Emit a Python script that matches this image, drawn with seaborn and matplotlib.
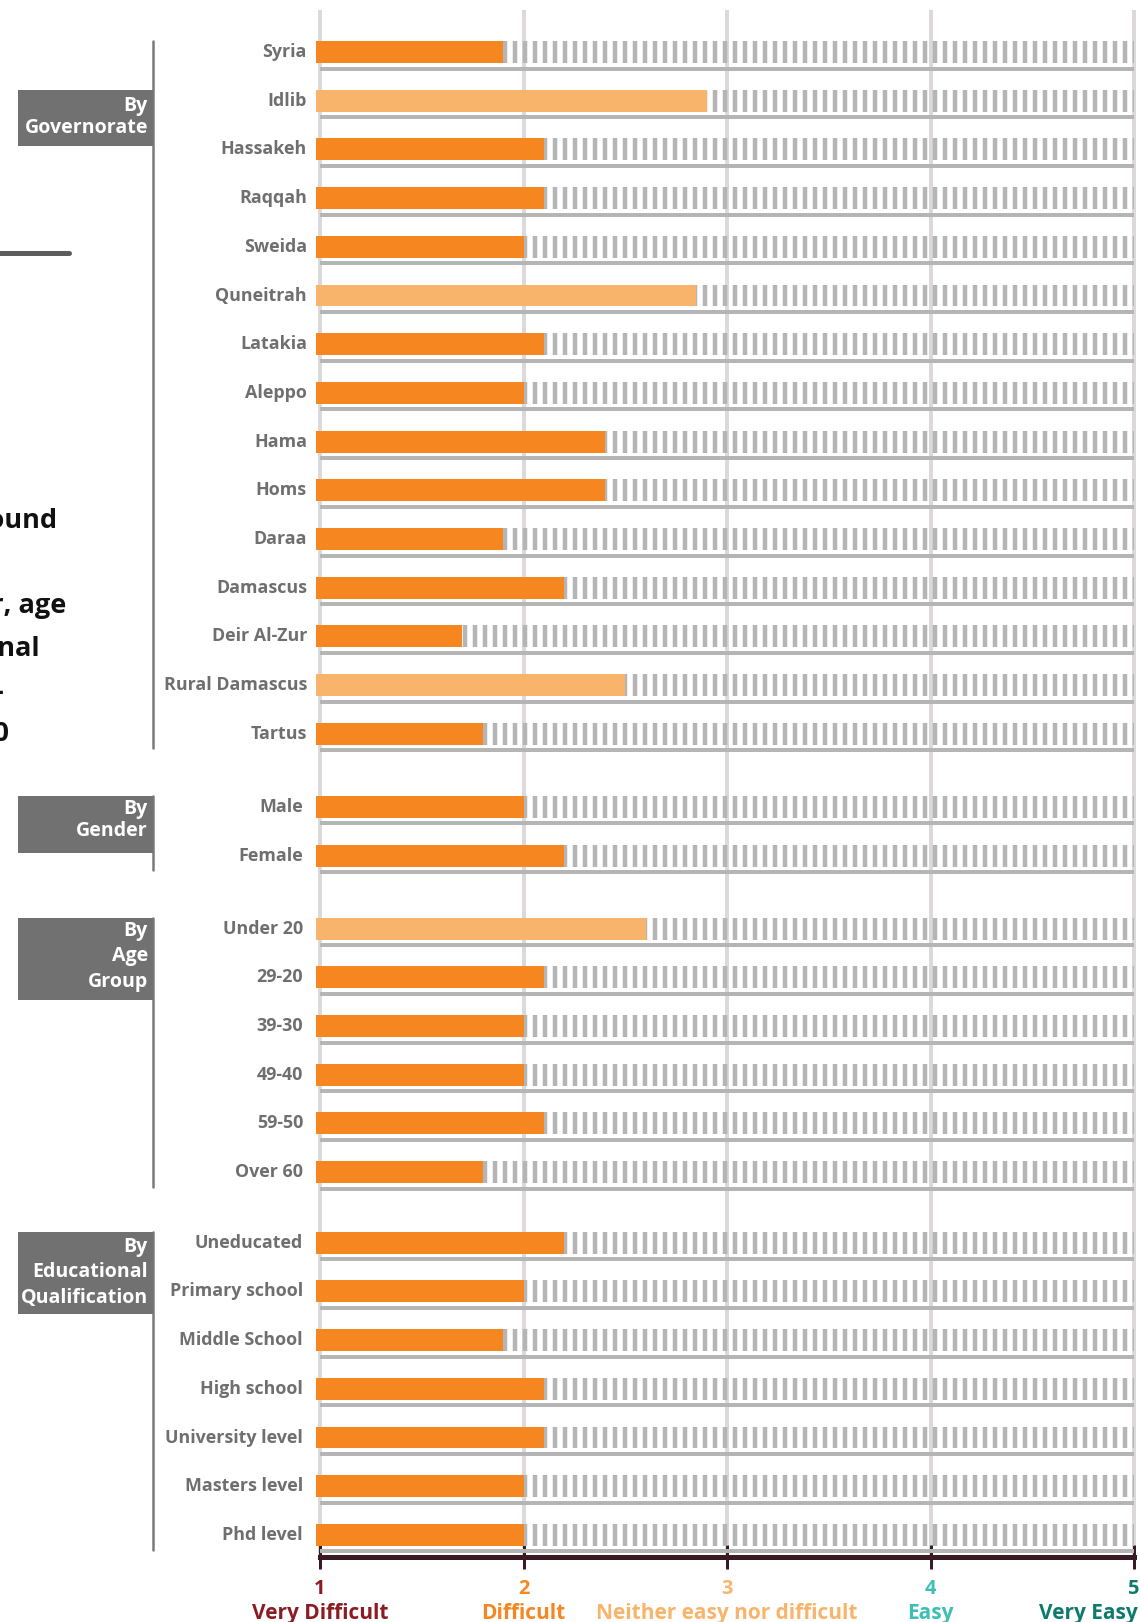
import numpy as np
import pandas as pd
import matplotlib
matplotlib.use("Agg")
import matplotlib.pyplot as plt
import seaborn as sns
from matplotlib import transforms
from matplotlib.patches import Rectangle
from matplotlib.lines import Line2D

# ---------------- data ----------------
gov_labels = ["Syria", "Idlib", "Hassakeh", "Raqqah", "Sweida", "Quneitrah", "Latakia",
              "Aleppo", "Hama", "Homs", "Daraa", "Damascus", "Deir Al-Zur",
              "Rural Damascus", "Tartus"]
gov_values = [1.9, 2.9, 2.1, 2.1, 2.0, 2.85, 2.1, 2.0, 2.4, 2.4, 1.9, 2.2, 1.7, 2.5, 1.8]

gender_labels = ["Male", "Female"]
gender_values = [2.0, 2.2]

age_labels = ["Under 20", "29-20", "39-30", "49-40", "59-50", "Over 60"]
age_values = [2.6, 2.1, 2.0, 2.0, 2.1, 1.8]

edu_labels = ["Uneducated", "Primary school", "Middle School", "High school",
              "University level", "Masters level", "Phd level"]
edu_values = [2.2, 2.0, 1.9, 2.1, 2.1, 2.0, 2.0]

group_titles = ["By\nGovernorate", "By\nGender", "By\nAge\nGroup",
                "By\nEducational\nQualification"]

scale_values = [1, 2, 3, 4, 5]
scale_names = ["Very Difficult", "Difficult", "Neither easy nor difficult", "Easy", "Very Easy"]

side_text = ["background", "", "gender, age", "educational", "-", "2020"]

# ---------------- style ----------------
DPI = 120
W, H = 1140, 1622
sns.set_style("white")
plt.rcParams["font.family"] = ["Open Sans", "DejaVu Sans"]
plt.rcParams["hatch.linewidth"] = 2.7

scale_colors = ["#8a1c22", "#F58620", "#F9B46B", "#3CBFB4", "#0E7A6E"]
bar_palette = {"difficult": "#F58620", "neither": "#F9B46B"}
label_grey = "#6f6f6f"
box_grey = "#717171"
track_grey = "#b5b5b5"
grid_col = "#ddd8da"
axis_col = "#3a1b23"

groups = [(gov_labels, gov_values), (gender_labels, gender_values),
          (age_labels, age_values), (edu_labels, edu_values)]
group_gaps = [0.0, 0.5, 0.5, 0.45]
label_pads = [5.4, 7.7, 7.7, 7.7]      # points
box_anchor_row = [1, 0, 0, 0]
box_text_drop = [0.12, 0.06, 0.06, 0.1]

rows = []
start = 0.0
for gi, (labs, vals) in enumerate(groups):
    start += group_gaps[gi]
    for j, (l, v) in enumerate(zip(labs, vals)):
        rows.append(dict(label=l, value=v, pos=start + j, group=gi))
    start += len(labs)
df = pd.DataFrame(rows)
df["level"] = np.where(df["value"] >= 2.5, "neither", "difficult")
df["full"] = max(scale_values)

# ---------------- figure ----------------
fig = plt.figure(figsize=(W / DPI, H / DPI), dpi=DPI)
unit = 203.5
x_lo, x_hi = 0.98, 5.02
left_px = 320 - (1 - x_lo) * unit
right_px = 1134 + (x_hi - 5) * unit
top_px, bot_px = 10, 1557
ax = fig.add_axes([left_px / W, (H - bot_px) / H, (right_px - left_px) / W, (bot_px - top_px) / H])

# hatched remainder
sns.barplot(data=df, x="full", y="pos", orient="y", native_scale=True, width=0.45,
            color="white", saturation=1, errorbar=None, ax=ax, zorder=2)
for p in ax.containers[0]:
    p.set_facecolor("none")
    p.set_edgecolor(track_grey)
    p.set_linewidth(0)
    p.set_hatch("||")

# value bars
sns.barplot(data=df, x="value", y="pos", hue="level", palette=bar_palette, orient="y",
            native_scale=True, width=0.45, dodge=False, saturation=1, errorbar=None,
            legend=False, ax=ax, zorder=3, linewidth=0)

# tracks under each bar
ax.hlines(df["pos"] + 0.34, min(scale_values), max(scale_values), color=track_grey,
          lw=2.4, zorder=1.5)

px_row = 48.7
ax.set_xlim(x_lo, x_hi)
ax.set_ylim((bot_px - 52) / px_row, -(52 - top_px) / px_row)
ax.set_xticks(scale_values)
ax.set_yticks([])
ax.set_xlabel("")
ax.set_ylabel("")
ax.grid(axis="x", color=grid_col, lw=2.4)
ax.grid(axis="y", visible=False)
ax.set_axisbelow(True)
for s in ["top", "right", "left"]:
    ax.spines[s].set_visible(False)
ax.spines["bottom"].set_color(axis_col)
ax.spines["bottom"].set_linewidth(3)
ax.spines["bottom"].set_bounds(min(scale_values), max(scale_values))
ax.tick_params(axis="x", bottom=True, direction="inout", length=14, width=1.8,
               color=axis_col, pad=6.5, labelsize=12)
ax.set_xticklabels([str(v) for v in scale_values], fontweight="bold")
for t, c in zip(ax.get_xticklabels(), scale_colors):
    t.set_color(c)

for i, (v, name, c) in enumerate(zip(scale_values, scale_names, scale_colors)):
    last = i == len(scale_values) - 1
    ax.annotate(name, xy=(v, 0), xycoords=("data", "axes fraction"),
                xytext=(2.4 if last else 0, -33.7), textcoords="offset points",
                ha="right" if last else "center", va="center", color=c,
                fontsize=12.5, fontweight="bold", annotation_clip=False)

# row labels
for _, r in df.iterrows():
    ax.annotate(r["label"], xy=(0, r["pos"]), xycoords=("axes fraction", "data"),
                xytext=(-label_pads[int(r["group"])], 0), textcoords="offset points",
                ha="right", va="center", color=label_grey, fontsize=10.7,
                fontweight="bold", annotation_clip=False)

# group boxes and brackets
btrans = transforms.blended_transform_factory(fig.transFigure, ax.transData)
for gi, title in enumerate(group_titles):
    g = df[df["group"] == gi]
    anchor = g["pos"].iloc[box_anchor_row[gi]]
    nlines = title.count("\n") + 1
    top = anchor - 0.22
    height = 0.1 + 0.53 * nlines
    fig.add_artist(Rectangle((18 / W, top), (153 - 18) / W, height, transform=btrans,
                             facecolor=box_grey, edgecolor="none", zorder=3))
    fig.text(148 / W, top + box_text_drop[gi], title, transform=btrans, ha="right", va="top",
             multialignment="right", color="white", fontsize=11.8, fontweight="bold",
             linespacing=1.12 if nlines == 2 else 1.36, zorder=4)
    y0 = min(top, g["pos"].iloc[0] - 0.225)
    y1 = g["pos"].iloc[-1] + 0.3
    fig.add_artist(Line2D([153 / W, 153 / W], [y0, y1], transform=btrans,
                          color="#7a7a7a", lw=1.5, zorder=2))

# cut-off text at left edge
fig.add_artist(Line2D([0, 69 / W], [1 - 253 / H, 1 - 253 / H], color="#5c5c5c", lw=3))
side_right = [58, 0, 66, 40, 3, 10]
side_y = [521, 564, 606, 649, 693, 734]
for s, xr, yy in zip(side_text, side_right, side_y):
    if s:
        fig.text(xr / W, 1 - yy / H, s, ha="right", va="center", fontsize=16.3,
                 fontweight="bold", color="#111111")

fig.savefig("out.png", dpi=DPI)
